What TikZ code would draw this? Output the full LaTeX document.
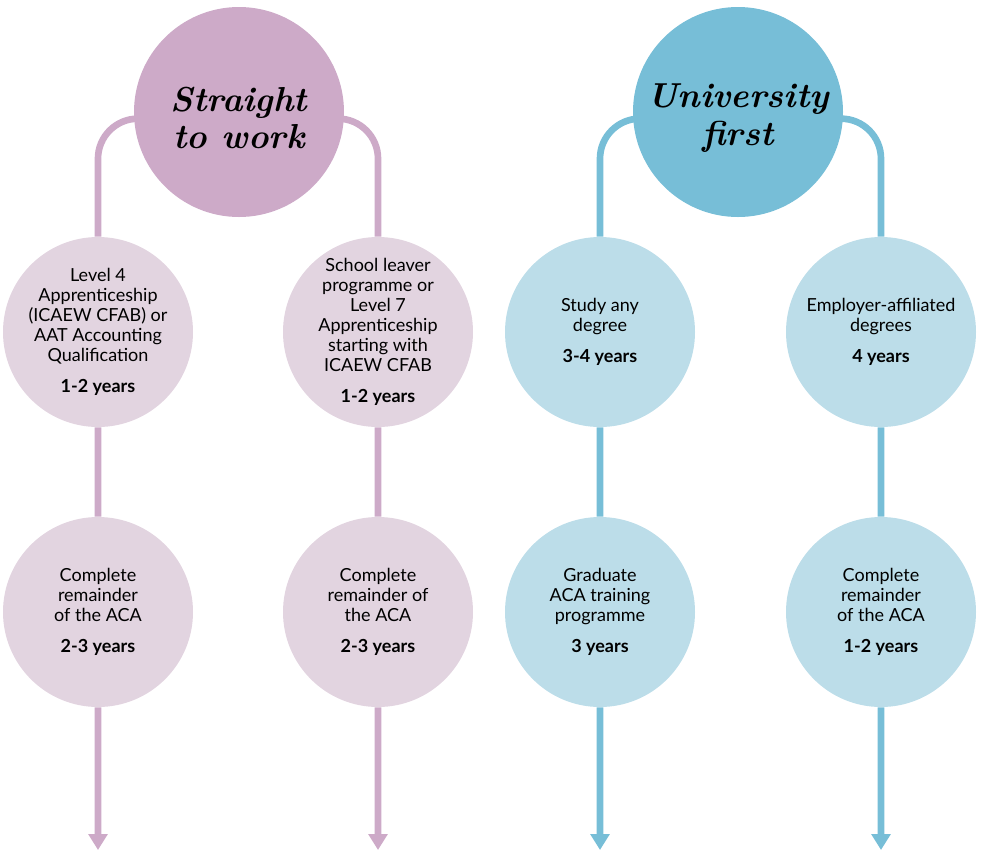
\documentclass[tikz,border=0pt]{standalone}
\usepackage{fontspec}
\setsansfont{Lato}
\usepackage{xcolor}
\usetikzlibrary{arrows.meta, positioning}

\definecolor{pinkdark}{HTML}{CDAAC8}
\definecolor{pinklight}{HTML}{E2D4E0}
\definecolor{bluedark}{HTML}{77BED7}
\definecolor{bluelight}{HTML}{BCDDE9}

\pgfdeclarelayer{bg}
\pgfsetlayers{bg,main}

\tikzset{
    route/.style={circle, minimum size=157.5pt, inner sep=0pt, align=center,
        font=\fontsize{26}{28}\selectfont\bfseries\itshape},
    stage/.style={circle, minimum size=142.5pt, inner sep=0pt, align=center,
        font=\sffamily\fontsize{13.5}{15}\selectfont},
    track/.style={line width=5pt, rounded corners=30pt,
        -{Triangle[width=14pt, length=12pt]}},
}
\newcommand{\yrs}[1]{\\[8pt]\textbf{#1}}
\newcommand{\lift}{\rule{0pt}{27pt}}

\begin{document}
\begin{tikzpicture}[x=0.75pt, y=-0.75pt]
    \useasboundingbox (0, 0) rectangle (982, 851);

    % straight to work
    \node[route, fill=pinkdark] (st) at (239, 112) {\lift Straight\\to work};
    \node[stage, fill=pinklight] (sa) at (98, 332) {Level 4\\Apprenticeship\\(ICAEW CFAB) or\\AAT Accounting\\Qualification\yrs{1-2 years}};
    \node[stage, fill=pinklight] (sb) at (98, 612) {Complete\\remainder\\of the ACA\yrs{2-3 years}};
    \node[stage, fill=pinklight] (sc) at (378, 332) {School leaver\\programme or\\Level 7\\Apprenticeship\\starting with\\ICAEW CFAB\yrs{1-2 years}};
    \node[stage, fill=pinklight] (sd) at (378, 612) {Complete\\remainder of\\the ACA\yrs{2-3 years}};

    % university first
    \node[route, fill=bluedark] (uf) at (738, 112) {\lift University\\first};
    \node[stage, fill=bluelight] (ua) at (600, 332) {Study any\\degree\yrs{3-4 years}};
    \node[stage, fill=bluelight] (ub) at (600, 612) {Graduate\\ACA training\\programme\yrs{3 years}};
    \node[stage, fill=bluelight] (uc) at (881, 332) {Employer-affiliated\\degrees\yrs{4 years}};
    \node[stage, fill=bluelight] (ud) at (881, 612) {Complete\\remainder\\of the ACA\yrs{1-2 years}};

    \coordinate (sa end) at (98, 850);
    \coordinate (sc end) at (378, 850);
    \coordinate (ua end) at (600, 850);
    \coordinate (uc end) at (881, 850);

    \begin{pgfonlayer}{bg}
        \draw[track, pinkdark] ([yshift=-5pt]st.center) -| (sa) -- (sb) -- (sa end);
        \draw[track, pinkdark] ([yshift=-5pt]st.center) -| (sc) -- (sd) -- (sc end);
        \draw[track, bluedark] ([yshift=-5pt]uf.center) -| (ua) -- (ub) -- (ua end);
        \draw[track, bluedark] ([yshift=-5pt]uf.center) -| (uc) -- (ud) -- (uc end);
    \end{pgfonlayer}
\end{tikzpicture}
\end{document}
